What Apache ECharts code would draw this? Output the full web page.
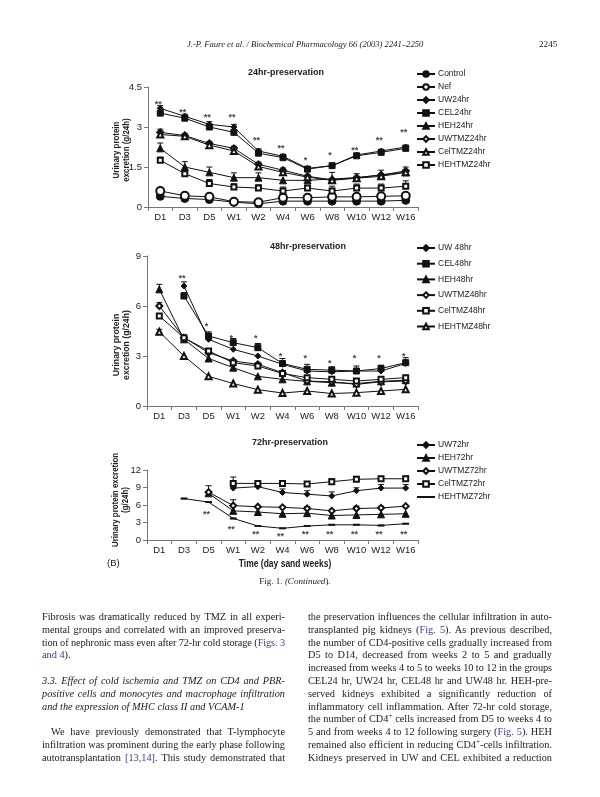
<!DOCTYPE html>
<html><head><meta charset="utf-8">
<script src="https://cdn.jsdelivr.net/npm/echarts@6/dist/echarts.min.js"></script>
<style>
html,body{margin:0;padding:0;background:#fff;}
#page{position:relative;width:600px;height:797px;overflow:hidden;background:#fff;}
#chart{position:absolute;left:0;top:0;width:600px;height:797px;}
.t{position:absolute;font-family:"Liberation Serif",serif;color:#222;}
.col{position:absolute;width:243px;font-family:"Liberation Serif",serif;font-size:10.3px;line-height:12.8px;color:#1a1a1a;}
.l{white-space:nowrap;height:12.8px;overflow:visible;}
.l.j{text-align:justify;text-align-last:justify;}
.blue{color:#3b3b9a;}
i{font-style:italic;}
</style></head>
<body><div id="page">
<div id="chart"></div>
<div class="t" style="left:187px;top:39px;font-size:8.6px;font-style:italic;white-space:nowrap;">J.-P. Faure et al. / Biochemical Pharmacology 66 (2003) 2241–2250</div>
<div class="t" style="left:539px;top:39px;font-size:9.2px;">2245</div>
<div class="t" style="left:0;width:590px;text-align:center;top:576px;font-size:9px;">Fig. 1. <i>(Continued</i>).</div>
<div class="col" style="left:42px;top:611px;">
<div class="l j">Fibrosis was dramatically reduced by TMZ in all experi-</div>
<div class="l j">mental groups and correlated with an improved preserva-</div>
<div class="l j">tion of nephronic mass even after 72-hr cold storage (<span class="blue">Figs. 3</span></div>
<div class="l"><span class="blue">and 4</span>).</div>
<div class="l"></div>
<div class="l j"><i>3.3. Effect of cold ischemia and TMZ on CD4 and PBR-</i></div>
<div class="l j"><i>positive cells and monocytes and macrophage infiltration</i></div>
<div class="l"><i>and the expression of MHC class II and VCAM-1</i></div>
<div class="l"></div>
<div class="l j" style="padding-left:9px;">We have previously demonstrated that T-lymphocyte</div>
<div class="l j">infiltration was prominent during the early phase following</div>
<div class="l j">autotransplantation <span class="blue">[13,14]</span>. This study demonstrated that</div>
</div>
<div class="col" style="left:308px;top:611px;width:244px;">
<div class="l j">the preservation influences the cellular infiltration in auto-</div>
<div class="l j">transplanted pig kidneys (<span class="blue">Fig. 5</span>). As previous described,</div>
<div class="l j">the number of CD4-positive cells gradually increased from</div>
<div class="l j">D5 to D14, decreased from weeks 2 to 5 and gradually</div>
<div class="l j">increased from weeks 4 to 5 to weeks 10 to 12 in the groups</div>
<div class="l j">CEL24 hr, UW24 hr, CEL48 hr and UW48 hr. HEH-pre-</div>
<div class="l j">served kidneys exhibited a significantly reduction of</div>
<div class="l j">inflammatory cell inflammation. After 72-hr cold storage,</div>
<div class="l j">the number of CD4<sup style="font-size:7px;line-height:0">+</sup> cells increased from D5 to weeks 4 to</div>
<div class="l j">5 and from weeks 4 to 12 following surgery (<span class="blue">Fig. 5</span>). HEH</div>
<div class="l j">remained also efficient in reducing CD4<sup style="font-size:7px;line-height:0">+</sup>-cells infiltration.</div>
<div class="l j">Kidneys preserved in UW and CEL exhibited a reduction</div>
</div>
</div>
<script>
// ---------- data ----------
const categories = ['D1','D3','D5','W1','W2','W4','W6','W8','W10','W12','W16'];

// 24hr-preservation
const control24 = [0.40,0.32,0.28,0.18,0.12,0.22,0.22,0.22,0.22,0.22,0.25];
const nef24     = [0.60,0.42,0.38,0.20,0.18,0.35,0.35,0.38,0.38,0.40,0.42];
const uw24      = [3.70,3.40,3.10,3.00,2.10,1.90,1.45,1.55,1.95,2.10,2.25];
const cel24     = [3.52,3.33,3.00,2.80,2.02,1.85,1.42,1.55,1.92,2.05,2.20];
const heh24     = [2.20,1.50,1.30,1.10,1.10,1.00,1.00,1.05,1.10,1.20,1.30];
const uwtmz24   = [2.80,2.68,2.38,2.20,1.60,1.38,1.15,1.02,1.10,1.20,1.35];
const celtmz24  = [2.72,2.65,2.32,2.10,1.52,1.30,1.12,1.00,1.08,1.15,1.30];
const hehtmz24  = [1.75,1.25,0.88,0.75,0.71,0.60,0.71,0.60,0.71,0.71,0.78];
const errUw24     = [0.10,0.08,0.10,0.10,0.08,0.08,0.05,0.04,0.05,0.06,0.07];
const errUwtmz24  = [0.12,0.08,0.08,0.08,0.08,0.08,0.05,0.05,0.05,0.05,0.05];
const errHeh24    = [0.20,0.20,0.20,0.18,0.18,0,0,0.25,0.15,0.18,0.20];
const errHehtmz24 = [0.12,0,0.15,0.12,0.12,0.15,0,0.18,0.15,0.15,0.20];
const sig24Text = ['**','**','**','**','**','**','*','*','**','**','**'];
const sig24Y    = [3.95,3.66,3.48,3.48,2.60,2.30,1.85,2.05,2.22,2.60,2.92];

// 48hr-preservation
const uw48     = [null,7.20,4.00,3.40,3.00,2.50,2.10,2.05,2.10,2.10,2.55];
const cel48    = [null,6.60,4.20,3.80,3.50,2.55,2.20,2.15,2.10,2.25,2.60];
const heh48    = [7.00,4.00,2.85,2.30,1.78,1.60,1.48,1.40,1.35,1.48,1.55];
const uwtmz48  = [6.00,4.10,3.20,2.70,2.50,2.00,1.50,1.45,1.30,1.45,1.50];
const celtmz48 = [5.40,4.10,3.30,2.60,2.40,1.95,1.70,1.60,1.50,1.60,1.70];
const hehtmz48 = [4.45,3.00,1.78,1.35,0.98,0.78,0.90,0.75,0.80,0.90,1.00];
const errUw48     = [0,0.25,0,0,0,0,0,0,0,0,0];
const errCel48    = [0,0.20,0.25,0.25,0.25,0.30,0.30,0.20,0.30,0.20,0.30];
const errHeh48    = [0.30,0,0,0,0,0,0,0,0,0,0];
const errUwtmz48  = [0.20,0,0,0,0,0,0,0,0,0,0];
const errCeltmz48 = [0.15,0,0,0,0,0,0,0,0,0,0];
const errHehtmz48 = [0.15,0,0,0,0,0,0,0,0,0,0];
const sig48Text = ['','**','*','*','*','*','*','*','*','*','*'];
const sig48Y    = [null,7.80,4.95,4.25,4.25,3.15,3.05,2.75,3.05,3.05,3.15];

// 72hr-preservation
const uw72     = [null,null,null,8.90,9.15,8.15,7.85,7.55,8.45,8.90,8.90];
const heh72    = [null,null,8.00,5.00,4.80,4.50,4.60,4.20,4.30,4.40,4.50];
const uwtmz72  = [null,null,8.20,5.90,5.70,5.60,5.40,5.00,5.40,5.50,5.80];
const celtmz72 = [null,null,null,9.70,9.70,9.70,9.60,10.00,10.40,10.50,10.50];
const hehtmz72 = [null,7.10,6.50,3.70,2.40,2.00,2.40,2.60,2.60,2.50,2.80];
const errUw72     = [0,0,0,0.5,0.3,0.6,0.6,0.7,0.5,0.6,0.6];
const errCeltmz72 = [0,0,0,1.1,0.25,0.4,0.4,0.5,0.5,0.4,0.45];
const errUwtmz72  = [0,0,1.1,1.0,0,0,0.3,0,0.4,0.3,0];
const sig72Text = ['','','**','**','**','**','**','**','**','**','**'];
const sig72Y    = [null,null,4.90,2.30,1.40,1.10,1.40,1.40,1.40,1.40,1.40];

// ---------- body text fitting ----------
document.querySelectorAll('.l.j').forEach(el=>{
  el.style.textAlignLast='left'; el.style.textAlign='left';
  const r = document.createRange(); r.selectNodeContents(el);
  const natural = r.getBoundingClientRect().width + (parseFloat(el.style.paddingLeft)||0);
  const target = el.clientWidth;
  if (natural > target) {
    const n = el.textContent.length;
    el.style.letterSpacing = ((target - natural - 1) / n) + 'px';
  }
  el.style.textAlignLast=''; el.style.textAlign='';
});

// ---------- chart ----------
const INK = '#111';
const FONT = 'Liberation Sans';

function line(name, data, idx, symbol, size) {
  return {
    name, type:'line', data, xAxisIndex:idx, yAxisIndex:idx,
    symbol, symbolSize:size, showAllSymbol:true,
    lineStyle:{color:INK,width:1}, itemStyle:{color:INK,borderColor:INK,borderWidth:1},
    connectNulls:false, z:3, animation:false
  };
}
function errBars(vals, errs, idx) {
  const data = [];
  vals.forEach((v,i)=>{ if(v!=null && errs[i]) data.push([i,v,errs[i]]); });
  return {
    type:'custom', xAxisIndex:idx, yAxisIndex:idx, z:2, animation:false, silent:true,
    renderItem:(params, api)=>{
      const x=api.value(0), y=api.value(1), e=api.value(2);
      const p0=api.coord([x,y]), p1=api.coord([x,y+e]);
      return {type:'group', children:[
        {type:'line', shape:{x1:p0[0],y1:p0[1],x2:p1[0],y2:p1[1]}, style:{stroke:INK,lineWidth:1}},
        {type:'line', shape:{x1:p1[0]-3,y1:p1[1],x2:p1[0]+3,y2:p1[1]}, style:{stroke:INK,lineWidth:1}}
      ]};
    },
    data
  };
}
function sig(texts, ys, idx) {
  const data = [];
  texts.forEach((t,i)=>{ if(t && ys[i]!=null) data.push({value:[i,ys[i]], lbl:t}); });
  return {
    type:'scatter', xAxisIndex:idx, yAxisIndex:idx, symbolSize:1, itemStyle:{color:'rgba(0,0,0,0)'},
    animation:false, silent:true,
    label:{show:true, position:'inside', formatter:p=>p.data.lbl, color:INK, fontSize:9, fontWeight:'bold', fontFamily:FONT, offset:[-2,3]},
    data
  };
}
function xAx(idx) {
  return {
    type:'category', gridIndex:idx, data:categories, boundaryGap:true,
    axisLine:{lineStyle:{color:'#777',width:1}},
    axisTick:{show:true, alignWithLabel:false, length:4, lineStyle:{color:'#777'}},
    axisLabel:{color:'#222', fontSize:9.5, fontFamily:FONT, margin:5, interval:0},
    splitLine:{show:false}
  };
}
function yAx(idx, max, interval) {
  return {
    type:'value', gridIndex:idx, min:0, max, interval,
    axisLine:{show:true, lineStyle:{color:'#777',width:1}},
    axisTick:{show:true, length:4, lineStyle:{color:'#777'}},
    axisLabel:{color:'#222', fontSize:9.5, fontFamily:FONT, margin:6},
    splitLine:{show:false}
  };
}
function vText(text, x, y, sx) {
  return {type:'text', x, y, rotation:Math.PI/2, scaleX:sx, silent:true,
    style:{text, fontSize:9, fontWeight:'bold', fontFamily:FONT, fill:'#222', align:'center', verticalAlign:'middle', lineHeight:10}};
}

const legendText = {color:'#222', fontSize:8.5, fontFamily:FONT, lineHeight:10, padding:[0,0,0,-2]};
const titleText = {fontSize:9,fontWeight:'bold',color:'#222',fontFamily:FONT};
const legendBase = {orient:'vertical', itemWidth:18, itemHeight:7, selectedMode:false, textStyle:legendText, left:411};

const option = {
  animation:false,
  textStyle:{fontFamily:FONT},
  title:[
    {text:'24hr-preservation', left:281, top:63, textAlign:'center', textStyle:titleText},
    {text:'48hr-preservation', left:303, top:237, textAlign:'center', textStyle:titleText},
    {text:'72hr-preservation', left:285, top:433, textAlign:'center', textStyle:titleText}
  ],
  legend:[
    Object.assign({top:64, itemGap:3,
     data:['Control','Nef','UW24hr','CEL24hr','HEH24hr','UWTMZ24hr','CelTMZ24hr','HEHTMZ24hr']}, legendBase),
    Object.assign({top:238, itemGap:5.7,
     data:['UW 48hr','CEL48hr','HEH48hr','UWTMZ48hr','CelTMZ48hr','HEHTMZ48hr']}, legendBase),
    Object.assign({top:435, itemGap:3,
     data:['UW72hr','HEH72hr','UWTMZ72hr','CelTMZ72hr',{name:'HEHTMZ72hr', itemStyle:{opacity:0}}]}, legendBase)
  ],
  grid:[
    {left:148, top:87, width:270, height:120},
    {left:147, top:256, width:271, height:150},
    {left:147, top:470, width:271, height:70}
  ],
  xAxis:[ xAx(0), xAx(1), xAx(2) ],
  yAxis:[ yAx(0, 4.5, 1.5), yAx(1, 9, 3), yAx(2, 12, 3) ],
  graphic:[
    vText('Urinary protein\nexcretion (g/24h)', 122, 150, 0.88),
    vText('Urinary protein\nexcretion (g/24h)', 122, 345, 0.97),
    vText('Urinary protein excretion\n(g/24h)', 121, 500, 0.88),
    {type:'text', x:285, y:564, scaleX:0.85, silent:true,
     style:{text:'Time (day sand weeks)', fontSize:10, fontWeight:'bold', fontFamily:FONT, fill:'#222', align:'center', verticalAlign:'middle'}},
    {type:'text', x:107, y:558, silent:true, style:{text:'(B)', fontSize:9.5, fill:'#222', fontFamily:FONT}}
  ],
  series:[
    errBars(uw24, errUw24, 0), errBars(uwtmz24, errUwtmz24, 0), errBars(heh24, errHeh24, 0), errBars(hehtmz24, errHehtmz24, 0),
    line('Control', control24, 0, 'circle', 8),
    line('Nef', nef24, 0, 'emptyCircle', 8),
    line('UW24hr', uw24, 0, 'diamond', 6),
    line('CEL24hr', cel24, 0, 'rect', 6),
    line('HEH24hr', heh24, 0, 'triangle', 7),
    line('UWTMZ24hr', uwtmz24, 0, 'emptyDiamond', 6),
    line('CelTMZ24hr', celtmz24, 0, 'emptyTriangle', 6),
    line('HEHTMZ24hr', hehtmz24, 0, 'emptyRect', 5),
    sig(sig24Text, sig24Y, 0),

    errBars(uw48, errUw48, 1), errBars(cel48, errCel48, 1), errBars(heh48, errHeh48, 1),
    errBars(uwtmz48, errUwtmz48, 1), errBars(celtmz48, errCeltmz48, 1), errBars(hehtmz48, errHehtmz48, 1),
    line('UW 48hr', uw48, 1, 'diamond', 6),
    line('CEL48hr', cel48, 1, 'rect', 6),
    line('HEH48hr', heh48, 1, 'triangle', 7),
    line('UWTMZ48hr', uwtmz48, 1, 'emptyDiamond', 6),
    line('CelTMZ48hr', celtmz48, 1, 'emptyRect', 5),
    line('HEHTMZ48hr', hehtmz48, 1, 'emptyTriangle', 6),
    sig(sig48Text, sig48Y, 1),

    errBars(uw72, errUw72, 2), errBars(celtmz72, errCeltmz72, 2), errBars(uwtmz72, errUwtmz72, 2),
    line('UW72hr', uw72, 2, 'diamond', 6),
    line('HEH72hr', heh72, 2, 'triangle', 7),
    line('UWTMZ72hr', uwtmz72, 2, 'emptyDiamond', 6),
    line('CelTMZ72hr', celtmz72, 2, 'emptyRect', 5),
    line('HEHTMZ72hr', hehtmz72, 2, 'rect', [5,1.5]),
    sig(sig72Text, sig72Y, 2)
  ]
};
const chart = echarts.init(document.getElementById('chart'), null, {renderer:'canvas'});
chart.setOption(option);
</script>
</body></html>
